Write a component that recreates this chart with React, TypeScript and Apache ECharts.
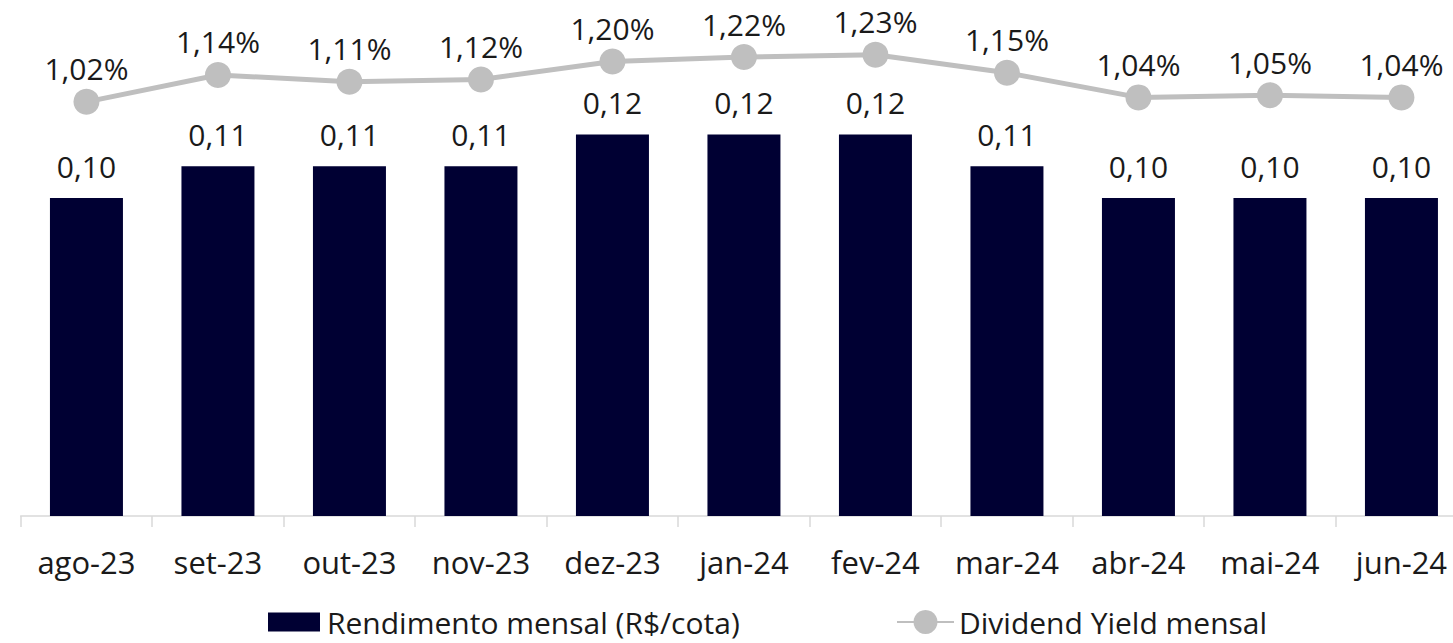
import React, { useEffect, useRef } from "react";
import * as echarts from "echarts";

const categories = ["ago-23", "set-23", "out-23", "nov-23", "dez-23", "jan-24", "fev-24", "mar-24", "abr-24", "mai-24", "jun-24"];
const rendimento = [0.10, 0.11, 0.11, 0.11, 0.12, 0.12, 0.12, 0.11, 0.10, 0.10, 0.10];
const dividendYield = [1.02, 1.14, 1.11, 1.12, 1.20, 1.22, 1.23, 1.15, 1.04, 1.05, 1.04];

const FONT = "'Open Sans', sans-serif";
const TXT = "#1a1a1a";

export default function App() {
  const ref = useRef<HTMLDivElement>(null);
  useEffect(() => {
    if (!ref.current) return;
    const chart = echarts.init(ref.current, null, { renderer: "svg" });
    chart.setOption({
      animation: false,
      grid: { left: 20.7, right: 12.8, top: 0, bottom: 127 },
      xAxis: {
        type: "category",
        data: categories,
        axisLine: { lineStyle: { color: "#D9D9D9", width: 1.5 } },
        axisTick: { show: true, interval: 0, length: 11, lineStyle: { color: "#D9D9D9", width: 1.5 } },
        axisLabel: { interval: 0, fontFamily: FONT, fontSize: 31, color: TXT, margin: 30 },
      },
      yAxis: [
        { type: "value", min: 0, max: 0.1623, show: false, splitLine: { show: false } },
        { type: "value", min: -0.83, max: 1.475, show: false, splitLine: { show: false } },
      ],
      legend: [
        {
          data: [{ name: "Rendimento mensal (R$/cota)", icon: "rect" }],
          left: 268,
          top: 607,
          padding: 0,
          itemWidth: 52,
          itemHeight: 19,
          itemGap: 0,
          textStyle: { fontFamily: FONT, fontSize: 30, lineHeight: 30, color: TXT, padding: [0, 0, 0, 2] },
        },
        {
          data: ["Dividend Yield mensal"],
          left: 896,
          top: 607,
          padding: 0,
          itemWidth: 57,
          itemHeight: 30,
          textStyle: { fontFamily: FONT, fontSize: 30, lineHeight: 30, color: TXT, padding: 0 },
        },
      ],
      series: [
        {
          name: "Rendimento mensal (R$/cota)",
          type: "bar",
          data: rendimento,
          barWidth: 73,
          itemStyle: { color: "#000033" },
          label: {
            show: true,
            position: "top",
            distance: 17,
            fontFamily: FONT,
            fontSize: 30,
            color: TXT,
            formatter: (p: any) => p.value.toFixed(2).replace(".", ","),
          },
        },
        {
          name: "Dividend Yield mensal",
          type: "line",
          yAxisIndex: 1,
          data: dividendYield,
          symbol: "circle",
          symbolSize: 26,
          lineStyle: { color: "#BFBFBF", width: 5 },
          itemStyle: { color: "#BFBFBF" },
          label: {
            show: true,
            position: "top",
            distance: 5,
            fontFamily: FONT,
            fontSize: 30,
            color: TXT,
            formatter: (p: any) => p.value.toFixed(2).replace(".", ",") + "%",
          },
        },
      ],
    });
    return () => chart.dispose();
  }, []);
  return (
    <div style={{ position: "absolute", left: 0, top: 0, width: 1453, height: 643, overflow: "hidden", background: "#fff" }}>
      <div ref={ref} style={{ width: 1480, height: 643 }} />
    </div>
  );
}
